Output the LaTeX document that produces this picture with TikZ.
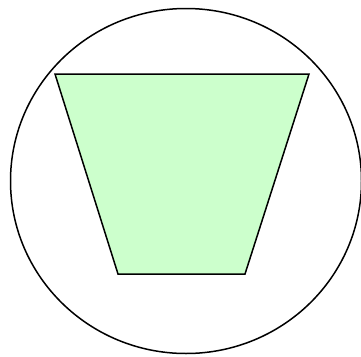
\documentclass[tikz,border=0pt]{standalone}
\definecolor{trapfill}{RGB}{204,255,204}

\begin{document}
\begin{tikzpicture}[
  x=1pt,y=-1pt,
  outline/.style={draw=black,line width=1.5pt},
  trap/.style={outline,fill=trapfill,line join=miter}
]
\useasboundingbox (0,0) rectangle (361,356);
% enclosing circle
\draw[outline] (186,181) ellipse [x radius=175.5,y radius=172.5];
% trapezoid corners
\coordinate (tl) at (55,74);
\coordinate (tr) at (309,74);
\coordinate (br) at (245,274);
\coordinate (bl) at (118,274);
\draw[trap] (tl)--(tr)--(br)--(bl)--cycle;
\end{tikzpicture}
\end{document}
